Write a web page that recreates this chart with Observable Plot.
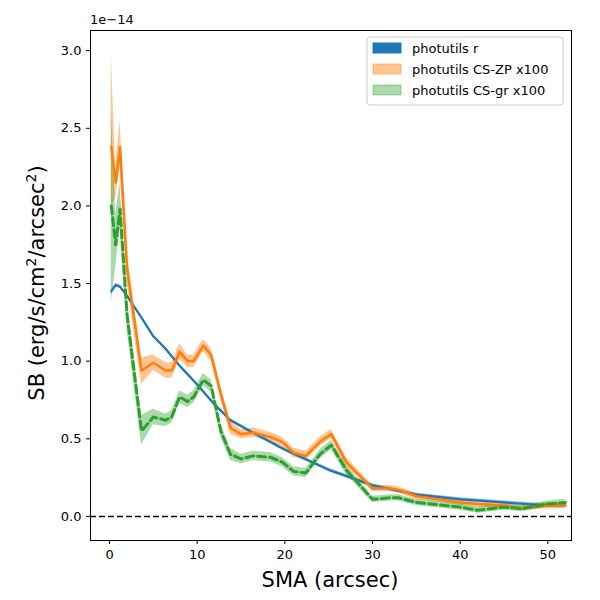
<!DOCTYPE html>
<html><head><meta charset="utf-8">
<script src="https://cdn.jsdelivr.net/npm/d3@7"></script>
<script src="https://cdn.jsdelivr.net/npm/@observablehq/plot@0.6"></script>
<style>body{margin:0;background:#fff;font-family:"DejaVu Sans",sans-serif}</style>
</head><body><div id="c"></div>
<script>
const sma = [0.2,0.7,1.2,2.0,3.65,5.0,6.4,7.1,8.0,8.9,9.6,10.7,11.6,12.7,13.8,15,16.4,18.4,19.7,21,22.4,24,25.3,27,30,32,33,35,40,42,45,47,50,52];
const zp = [2.38,2.15,2.38,1.6,0.94,0.99,0.94,0.94,1.06,1.0,1.0,1.1,1.04,0.79,0.57,0.53,0.54,0.51,0.48,0.41,0.39,0.48,0.53,0.35,0.18,0.18,0.17,0.13,0.09,0.08,0.07,0.05,0.07,0.07];
const zpLo = [2.0,2.05,2.25,1.5,0.85,0.94,0.89,0.89,1.01,0.96,0.96,1.06,1.0,0.75,0.53,0.5,0.51,0.48,0.45,0.38,0.36,0.45,0.5,0.32,0.16,0.16,0.15,0.11,0.07,0.06,0.05,0.04,0.05,0.05];
const zpHi = [2.98,2.25,2.55,1.7,1.02,1.04,0.99,0.99,1.11,1.04,1.04,1.14,1.08,0.83,0.61,0.56,0.57,0.54,0.51,0.44,0.42,0.51,0.56,0.38,0.2,0.2,0.19,0.15,0.11,0.1,0.09,0.07,0.09,0.09];
const gr = [2.0,1.75,1.98,1.3,0.55,0.64,0.62,0.64,0.77,0.74,0.77,0.88,0.84,0.55,0.4,0.37,0.39,0.38,0.35,0.29,0.28,0.4,0.46,0.3,0.11,0.12,0.12,0.09,0.06,0.04,0.06,0.05,0.08,0.09];
const grLo = [1.37,1.6,1.85,1.2,0.46,0.59,0.58,0.6,0.73,0.7,0.73,0.84,0.8,0.51,0.36,0.34,0.36,0.35,0.32,0.26,0.25,0.37,0.43,0.27,0.09,0.1,0.1,0.07,0.04,0.02,0.04,0.03,0.06,0.07];
const grHi = [2.63,1.95,2.15,1.4,0.65,0.69,0.66,0.68,0.81,0.78,0.81,0.92,0.88,0.59,0.44,0.4,0.42,0.41,0.38,0.32,0.31,0.43,0.49,0.33,0.13,0.14,0.14,0.11,0.08,0.06,0.08,0.07,0.1,0.11];
const bx = [0.2,0.7,1.2,2,3.65,5,6.4,8,10,12,13.8,16,20,25,30,35,40,45,50,52];
const by = [1.45,1.49,1.48,1.42,1.28,1.16,1.08,0.97,0.85,0.72,0.62,0.55,0.43,0.3,0.2,0.14,0.11,0.09,0.07,0.07];
const yTicks = [0,0.5,1,1.5,2,2.5,3];
const xTicks = [0,10,20,30,40,50];

const d1 = sma.map((x,i)=>({x,y:zp[i],lo:zpLo[i],hi:zpHi[i]}));
const d2 = sma.map((x,i)=>({x,y:gr[i],lo:grLo[i],hi:grHi[i]}));
const d3b = bx.map((x,i)=>({x,y:by[i],lo:by[i]-0.01,hi:by[i]+0.01}));

const plot = Plot.plot({
  width:600,height:600,marginLeft:90,marginRight:29,marginTop:30,marginBottom:60,
  style:{fontFamily:"DejaVu Sans",fontSize:"13px",background:"#fff"},
  x:{domain:[-2.17,52.7],ticks:xTicks,tickSize:4,label:null,tickFormat:d=>d},
  y:{domain:[-0.155,3.13],ticks:yTicks,tickSize:4,label:null,tickFormat:d=>d.toFixed(1)},
  marks:[
    Plot.ruleY([0],{stroke:"black",strokeWidth:1.5,strokeDasharray:"6,3"}),
    Plot.areaY(d3b,{x:"x",y1:"lo",y2:"hi",fill:"#1f77b4",fillOpacity:0.5}),
    Plot.areaY(d1,{x:"x",y1:"lo",y2:"hi",fill:"#ff7f0e",fillOpacity:0.45}),
    Plot.areaY(d2,{x:"x",y1:"lo",y2:"hi",fill:"#2ca02c",fillOpacity:0.4}),
    Plot.line(d3b,{x:"x",y:"y",stroke:"#1f77b4",strokeWidth:2.2}),
    Plot.line(d1,{x:"x",y:"y",stroke:"#ff7f0e",strokeWidth:2.6}),
    Plot.line(d2,{x:"x",y:"y",stroke:"#2ca02c",strokeWidth:3,strokeDasharray:"8,4"}),
    Plot.frame({stroke:"black"})
  ]
});
document.getElementById("c").appendChild(plot);
const svg = d3.select(plot);
svg.append("text").attr("x",330).attr("y",587).attr("text-anchor","middle").attr("font-size",21).text("SMA (arcsec)");
const yl = svg.append("text").attr("transform","translate(44,283) rotate(-90)").attr("text-anchor","middle").attr("font-size",21);
yl.append("tspan").text("SB (erg/s/cm");
yl.append("tspan").attr("dy",-8).attr("font-size",14).text("2");
yl.append("tspan").attr("dy",8).text("/arcsec");
yl.append("tspan").attr("dy",-8).attr("font-size",14).text("2");
yl.append("tspan").attr("dy",8).text(")");
svg.append("text").attr("x",90).attr("y",24).attr("text-anchor","start").attr("font-size",13).text("1e\u221214");
const lg = svg.append("g").attr("transform","translate(367,37)");
lg.append("rect").attr("width",196).attr("height",68).attr("rx",3).attr("fill","white").attr("stroke","#ccc");
[["photutils r","#1f77b4",1],["photutils CS-ZP x100","#ff7f0e",0.45],["photutils CS-gr x100","#2ca02c",0.4]].forEach((e,i)=>{
  lg.append("rect").attr("x",6).attr("y",6+i*21).attr("width",28).attr("height",10).attr("fill",e[1]).attr("fill-opacity",e[2]).attr("stroke",e[1]).attr("stroke-opacity",e[2]);
  lg.append("text").attr("x",45).attr("y",16+i*21).attr("text-anchor","start").attr("font-size",13).text(e[0]);
});
</script></body></html>
